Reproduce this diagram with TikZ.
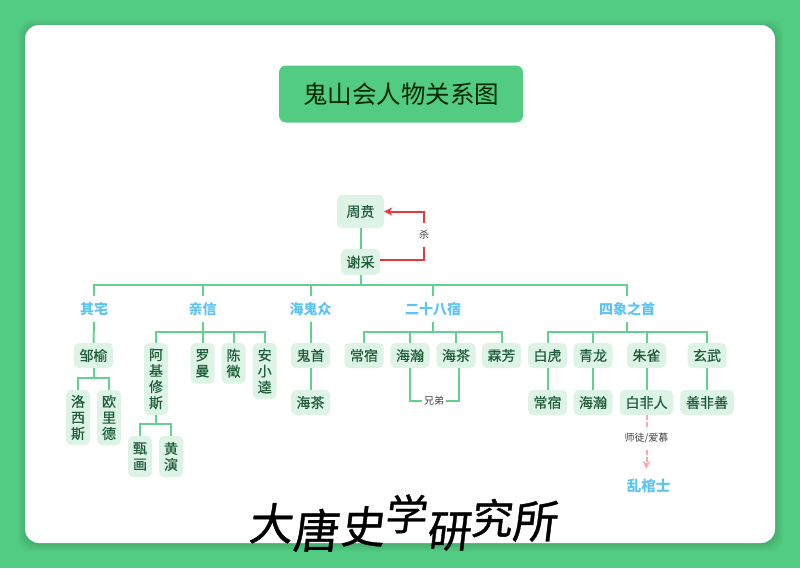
\documentclass[tikz,border=0pt]{standalone}
\usepackage{fontspec}
\setmainfont{Noto Sans CJK SC}
\newfontfamily\personfont[FakeBold=0.5]{Noto Sans CJK SC}
\newfontfamily\brushfont[FakeBold=0.8,FakeSlant=0.12]{Noto Sans CJK SC}
\usetikzlibrary{arrows.meta}
\definecolor{bggreen}{HTML}{52CC83}
\definecolor{nodefill}{HTML}{DCF3E5}
\definecolor{nodetext}{HTML}{1E5C3A}
\definecolor{linegreen}{HTML}{62D18E}
\definecolor{catblue}{HTML}{5CC4F5}
\definecolor{redline}{HTML}{E8383D}
\definecolor{pinkline}{HTML}{F9A9AC}
\tikzset{
  x=1pt,y=-1pt,
  person/.style={fill=nodefill,rounded corners=5pt,inner sep=0pt,text=nodetext,align=center,
     font=\personfont\fontsize{14}{16}\selectfont},
  wide/.style={person,minimum width=39pt,minimum height=25pt},
  widethree/.style={person,minimum width=53.5pt,minimum height=25pt},
  tall/.style={person,minimum width=24pt},
  cat/.style={inner sep=0pt,text=catblue,minimum height=26pt,font=\fontsize{14}{16}\selectfont\bfseries},
  conn/.style={draw=linegreen,line width=2pt},
  small/.style={fill=white,inner sep=1.5pt,text=black!75,font=\fontsize{10}{12}\selectfont},
}
\newcommand{\brushch}[3]{\raisebox{#2pt}{\fontsize{#1}{#1}\selectfont #3}}
\begin{document}
\begin{tikzpicture}
\useasboundingbox (0,0) rectangle (800,568);
\fill[bggreen] (0,0) rectangle (800,568);
\foreach \s in {8,6,4,2}
  \fill[black,opacity=0.03,rounded corners=14pt] (25-\s+1,25-\s+3) rectangle (775+\s,543+\s);
\fill[white,rounded corners=14pt] (25,25) rectangle (775,543);

\node[fill=bggreen,rounded corners=7pt,minimum width=244pt,minimum height=57pt,inner sep=0pt,
      text=black!85!green,font=\fontsize{24.5}{30}\selectfont] (title) at (401,94) {鬼山会人物关系图};

\node[person,minimum width=47pt,minimum height=33pt] (zhou) at (360.5,211.5) {周贲};
\node[person,minimum width=39pt,minimum height=26pt] (xie) at (360.5,262) {谢采};
\coordinate (bus) at (360.5,285);

\node[cat] (c1) at (94,309) {其宅};
\node[cat] (c2) at (202.5,309) {亲信};
\node[cat] (c3) at (310.5,309) {海鬼众};
\node[cat] (c4) at (433,309) {二十八宿};
\node[cat] (c5) at (627,309) {四象之首};

\node[wide] (zouyu) at (93.5,355.5) {邹榆};
\node[tall,minimum height=55pt] (luo) at (78,417.5) {洛\\西\\斯};
\node[tall,minimum height=55pt] (ou) at (109,417.5) {欧\\里\\德};
\coordinate (zsplit) at (93.5,378);

\coordinate (b2) at (202.5,331.5);
\node[tall,minimum height=72pt] (aji) at (156,379) {阿\\基\\修\\斯};
\node[tall,minimum height=40.5pt] (luoman) at (202.5,363.25) {罗\\曼};
\node[tall,minimum height=40.5pt] (chen) at (233.5,363.25) {陈\\徵};
\node[tall,minimum height=56pt] (an) at (264.7,371) {安\\小\\逵};
\coordinate (asplit) at (156,424);
\node[tall,minimum height=41pt] (zhen) at (140,456.5) {甄\\画};
\node[tall,minimum height=41pt] (huang) at (171,456.5) {黄\\演};

\node[wide] (guishou) at (310.5,355.5) {鬼首};
\node[wide] (haicha) at (310.5,402.5) {海茶};

\coordinate (b4) at (433,331.5);
\node[wide] (chang) at (364,355.5) {常宿};
\node[wide] (haihan) at (410,355.5) {海瀚};
\node[wide] (haicha2) at (456,355.5) {海茶};
\node[wide] (linfang) at (501.5,355.5) {霖芳};
\node[small] (xiongdi) at (434,401) {兄弟};

\coordinate (b5) at (627,331.5);
\node[wide] (baihu) at (547.5,355.5) {白虎};
\node[wide] (qing) at (593,355.5) {青龙};
\node[wide] (zhu) at (646.5,355.5) {朱雀};
\node[wide] (xuan) at (707,355.5) {玄武};
\node[wide] (chang2) at (547.5,402.5) {常宿};
\node[wide] (haihan2) at (593,402.5) {海瀚};
\node[widethree] (bai) at (646.5,402.5) {白非人};
\node[widethree] (shan) at (707,402.5) {善非善};
\node[inner sep=0pt,text=catblue,font=\fontsize{14.5}{16}\selectfont\bfseries,minimum height=16pt] (luan) at (648.5,485.5) {乱棺士};
\node[small,inner sep=0pt,minimum height=22pt,minimum width=46pt] (shitu) at (646.5,438.5) {师徒/爱慕};
\node[small,inner sep=0pt,minimum height=23pt,minimum width=12pt] (sha) at (424,235) {杀};

\draw[conn] (zhou) -- (xie);
\draw[conn] (xie) -- (bus);
\draw[conn] (c1.north) |- (bus);
\draw[conn] (c2.north) |- (bus);
\draw[conn] (c3.north) |- (bus);
\draw[conn] (c4.north) |- (bus);
\draw[conn] (c5.north) |- (bus);

\draw[conn] (c1.south) -- (zouyu.north);
\draw[conn] (zouyu.south) -- (zsplit);
\draw[conn] (zsplit) -| (luo.north);
\draw[conn] (zsplit) -| (ou.north);

\draw[conn] (c2.south) -- (b2);
\draw[conn] (b2) -| (aji.north);
\draw[conn] (b2) -- (luoman.north);
\draw[conn] (b2) -| (chen.north);
\draw[conn] (b2) -| (an.north);
\draw[conn] (aji.south) -- (asplit);
\draw[conn] (asplit) -| (zhen.north);
\draw[conn] (asplit) -| (huang.north);

\draw[conn] (c3.south) -- (guishou.north);
\draw[conn] (guishou) -- (haicha);

\draw[conn] (c4.south) -- (b4);
\draw[conn] (b4) -| (chang.north);
\draw[conn] (b4) -| (haihan.north);
\draw[conn] (b4) -| (haicha2.north);
\draw[conn] (b4) -| (linfang.north);
\draw[conn] ([xshift=-0.5pt]haihan.south) |- (xiongdi.west);
\draw[conn] ([xshift=2.5pt]haicha2.south) |- (xiongdi.east);

\draw[conn] (c5.south) -- (b5);
\draw[conn] (b5) -| (baihu.north);
\draw[conn] (b5) -| (qing.north);
\draw[conn] (b5) -| (zhu.north);
\draw[conn] (b5) -| (xuan.north);
\draw[conn] (baihu) -- (chang2);
\draw[conn] (qing) -- (haihan2);
\draw[conn] (zhu) -- (bai);
\draw[conn] (xuan) -- (shan);

\draw[draw=redline,line width=2pt] ([yshift=2.5pt]xie.east) -| (sha.south);
\draw[draw=redline,line width=2pt,-{Stealth[length=8pt,width=8pt]}] (sha.north) |- (zhou.east);
\draw[draw=pinkline,line width=2pt,dash pattern=on 5pt off 2pt] (bai.south) -- (shitu.north);
\draw[draw=pinkline,line width=2pt,dash pattern=on 5pt off 2pt,-{Stealth[length=8pt,width=8pt]},shorten >=8.5pt] (shitu.south) -- (luan.north -| bai.south);

\node[anchor=base west,inner sep=0pt,text=black,font=\brushfont] (brand) at (248,540)
  {\brushch{44}{0}{大}\brushch{46}{-8}{唐}\kern2pt\brushch{44}{-3}{史}\brushch{42}{10}{学}\brushch{44}{-7}{研}\brushch{41.5}{6}{究}\brushch{45}{2}{所}};
\end{tikzpicture}
\end{document}
